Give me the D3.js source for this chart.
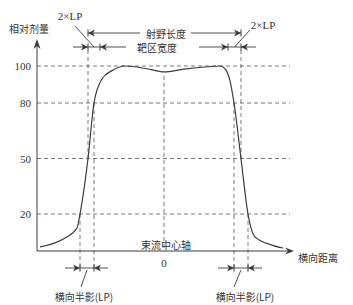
<!DOCTYPE html>
<html>
<head>
<meta charset="utf-8">
<script src="https://cdn.jsdelivr.net/npm/d3@7"></script>
<style>
  body { margin: 0; background: #fff; }
  svg { display: block; }
  .cn { font-family: "Noto Sans CJK SC", sans-serif; font-size: 10px; fill: #333; }
  .num { font-family: "Liberation Serif", "DejaVu Serif", serif; font-size: 11px; fill: #333; }
</style>
</head>
<body>
<div id="chart"></div>
<script>
(function(){
    'use strict';

    // profile: lateral distance (relative to beam axis) vs relative dose (%)
    var profileX = [-124, -99, -87, -84, -76, -70, -62, -52, -39, -17, 0, 20, 44, 56, 62, 66, 70, 77, 84, 91, 108, 119];
    var profileY = [2.2, 7, 12.4, 20, 50, 80, 93, 97.5, 100, 98.5, 96.8, 98.3, 99.6, 100, 97.8, 92, 80, 50, 20, 7.6, 3.2, 1.6];
    var doseTicks = [20, 50, 80, 100];
    var tickLabels = ['20', '50', '80', '100'];

    // key points on the profile edges
    var pt20 = [-84, 84];
    var pt50 = [-76, 77];
    var pt80 = [-70, 70];
    var targetEdge = [-64, 64];

    var width = 353, height = 305;
    var svg = d3.select('#chart').append('svg')
        .attr('width', width).attr('height', height);

    var x = d3.scaleLinear().domain([-127, 128]).range([37, 292]);
    var y = d3.scaleLinear().domain([0, 100]).range([251, 66]);

    var ink = '#3a3a3a';
    var dash = '4,3';

    // horizontal dashed guides + labels
    svg.selectAll('line.grid').data(doseTicks).enter()
        .append('line').attr('class', 'grid')
        .attr('x1', x(-127)).attr('x2', x(126))
        .attr('y1', function(d){ return y(d); })
        .attr('y2', function(d){ return y(d); })
        .attr('stroke', '#555').attr('stroke-width', 0.8)
        .attr('stroke-dasharray', dash);

    svg.selectAll('text.tick').data(doseTicks).enter()
        .append('text').attr('class', 'num')
        .attr('x', 31).attr('y', function(d){ return y(d) + 4; })
        .attr('text-anchor', 'end')
        .text(function(d, i){ return tickLabels[i]; });

    // vertical dashed guides
    function vguide(xv, y1, y2){
        svg.append('line')
            .attr('x1', x(xv)).attr('x2', x(xv))
            .attr('y1', y1).attr('y2', y2)
            .attr('stroke', '#555').attr('stroke-width', 0.8)
            .attr('stroke-dasharray', dash);
    }
    pt50.forEach(function(v){ vguide(v, 50, y(50)); });
    pt80.forEach(function(v){ vguide(v, y(80), 271); });
    pt20.forEach(function(v){ vguide(v, y(20), 271); });
    vguide(0, y(96.8) + 4, y(0));

    // axes
    svg.append('line')
        .attr('x1', x(-127)).attr('x2', x(-127))
        .attr('y1', y(0)).attr('y2', 44)
        .attr('stroke', ink).attr('stroke-width', 1);
    svg.append('path')
        .attr('d', 'M' + x(-127) + ',39 l-3.5,10 l3.5,-3 l3.5,3 z')
        .attr('fill', ink);
    svg.append('line')
        .attr('x1', x(-127)).attr('x2', x(127))
        .attr('y1', y(0)).attr('y2', y(0))
        .attr('stroke', ink).attr('stroke-width', 1);
    svg.append('path')
        .attr('d', 'M' + (x(128) + 2) + ',' + y(0) + ' l-9,-3.5 l3,3.5 l-3,3.5 z')
        .attr('fill', ink);

    // profile curve
    var line = d3.line()
        .x(function(d){ return x(d[0]); })
        .y(function(d){ return y(d[1]); })
        .curve(d3.curveMonotoneX);
    svg.append('path')
        .datum(d3.zip(profileX, profileY))
        .attr('d', line)
        .attr('fill', 'none')
        .attr('stroke', ink)
        .attr('stroke-width', 1.2);

    // dimension arrow: dir 1 points right (tip at xv), -1 points left
    function dimArrow(xv, yv, dir){
        var px = x(xv);
        svg.append('path')
            .attr('d', 'M' + px + ',' + yv + ' l' + (-7 * dir) + ',-3.5 l' + (2 * dir) + ',3.5 l' + (-2 * dir) + ',3.5 z')
            .attr('fill', ink);
        svg.append('line')
            .attr('x1', px).attr('x2', px)
            .attr('y1', yv - 3.5).attr('y2', yv + 3.5)
            .attr('stroke', ink).attr('stroke-width', 1);
    }
    function hline(x1, x2, yv){
        svg.append('line')
            .attr('x1', x1).attr('x2', x2).attr('y1', yv).attr('y2', yv)
            .attr('stroke', ink).attr('stroke-width', 0.9);
    }
    function leader(x1, y1, x2, y2){
        svg.append('line')
            .attr('x1', x1).attr('y1', y1).attr('x2', x2).attr('y2', y2)
            .attr('stroke', ink).attr('stroke-width', 0.9);
    }
    function label(txt, cx, cy, cls, anchor){
        svg.append('text').attr('class', cls || 'cn')
            .attr('x', cx).attr('y', cy)
            .attr('text-anchor', anchor || 'middle')
            .attr('dominant-baseline', 'central')
            .text(txt);
    }

    // field length (50% points)
    var r1 = 33;
    hline(x(pt50[0]), 140, r1);
    dimArrow(pt50[0], r1, -1);
    hline(191, x(pt50[1]), r1);
    dimArrow(pt50[1], r1, 1);
    label('射野长度', 166, r1);

    // target width
    var r2 = 47;
    hline(73, 126, r2);
    dimArrow(pt50[0], r2, 1);
    dimArrow(targetEdge[0], r2, -1);
    hline(199, 256, r2);
    dimArrow(targetEdge[1], r2, 1);
    dimArrow(pt50[1], r2, -1);
    label('靶区宽度', 157, r2);

    // 2xLP labels
    label('2×LP', 70, 16, 'num');
    leader(75, 26, (x(pt50[0]) + x(targetEdge[0])) / 2, r2);
    label('2×LP', 263, 25, 'num');
    leader(250, 30, (x(pt50[1]) + x(targetEdge[1])) / 2, r2);

    // penumbra (20%-80%)
    var r3 = 268;
    hline(65, 108, r3);
    dimArrow(pt20[0], r3, 1);
    dimArrow(pt80[0], r3, -1);
    hline(218, 262, r3);
    dimArrow(pt80[1], r3, 1);
    dimArrow(pt20[1], r3, -1);
    leader(81, 287, (x(pt20[0]) + x(pt80[0])) / 2, r3 + 2);
    leader(234, 287, (x(pt20[1]) + x(pt80[1])) / 2, r3 + 2);
    label('横向半影(LP)', 84, 296);
    label('横向半影(LP)', 245, 296);

    // axis titles
    label('相对剂量', 29, 28);
    label('横向距离', 318, 257);
    label('束流中心轴', 166, 244);
    label('0', x(0), 263, 'num');
}());
</script>
</body>
</html>
